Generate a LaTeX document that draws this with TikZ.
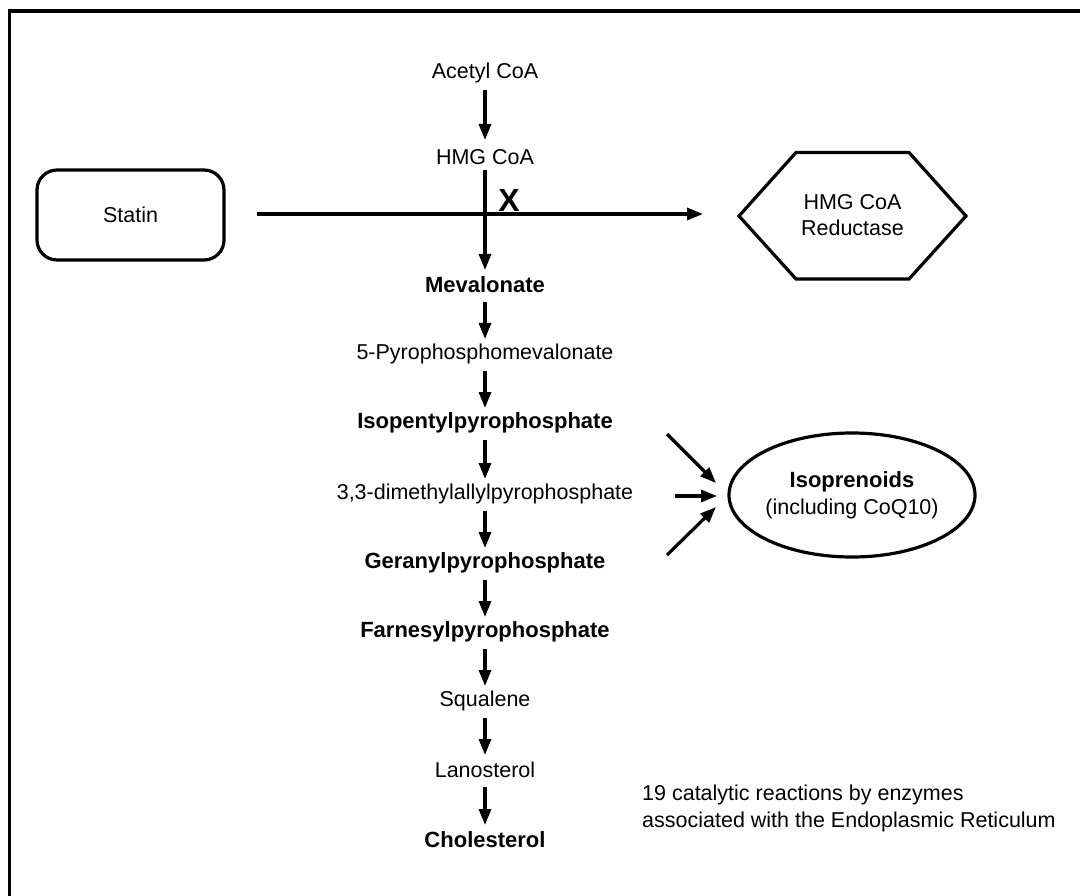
\documentclass[tikz,border=0pt]{standalone}
\usepackage{fontspec}
\setmainfont{Liberation Sans}
\usetikzlibrary{arrows.meta,shapes.geometric}
\begin{document}
\begin{tikzpicture}[x=1pt,y=-1pt,
  lbl/.style={inner sep=0pt,font=\fontsize{21.5}{25}\selectfont},
  blbl/.style={lbl,font=\fontsize{22}{25}\selectfont\bfseries},
  arr/.style={line width=3.2pt,-{Triangle[length=16pt,width=12pt]}},
  shape line/.style={line width=3.2pt}]
\useasboundingbox (0,0) rectangle (1080,896);
\draw[line width=3.2pt] (9.5,896) -- (9.5,11) -- (1080,11);

% pathway nodes
\node[lbl]  (acetyl) at (485,73) {Acetyl CoA};
\node[lbl]  (hmg)    at (485,157) {HMG CoA};
\node[blbl] (meva)   at (485,285) {Mevalonate};
\node[lbl]  (pyro)   at (485,354) {5-Pyrophosphomevalonate};
\node[blbl] (isop)   at (485,423) {Isopentylpyrophosphate};
\node[lbl]  (dmap)   at (485,494) {3,3-dimethylallylpyrophosphate};
\node[blbl] (gera)   at (485,563) {Geranylpyrophosphate};
\node[blbl] (farn)   at (485,632) {Farnesylpyrophosphate};
\node[lbl]  (squa)   at (485,701) {Squalene};
\node[lbl]  (lano)   at (485,770) {Lanosterol};
\node[blbl] (chol)   at (485,840) {Cholesterol};

\node[inner sep=0pt,font=\fontsize{32}{34}\selectfont\bfseries] (x) at (509,200) {X};

% statin
\node[draw,shape line,rounded corners=20pt,minimum width=187pt,minimum height=90pt,
      font=\fontsize{21.5}{25}\selectfont] (statin) at (130.5,215) {Statin};

% hexagon
\draw[shape line,line join=miter] (739,216) -- (796,152.5) -- (909,152.5) -- (966,216)
  -- (909,279) -- (796,279) -- cycle;
\node[lbl,align=center,font=\fontsize{21.5}{26}\selectfont] (hmgr) at (852.5,215) {HMG CoA\\Reductase};

% isoprenoids
\node[draw,shape line,ellipse,minimum width=246pt,minimum height=124pt,inner sep=0pt,
      align=center,font=\fontsize{21.5}{27}\selectfont] (isopr) at (852,495)
      {{\fontsize{22}{27}\selectfont\bfseries Isoprenoids}\\(including CoQ10)};

\node[lbl,align=left,anchor=west,font=\fontsize{21.5}{27}\selectfont] (note) at (642,808)
  {19 catalytic reactions by enzymes\\associated with the Endoplasmic Reticulum};

% arrows along the pathway
\draw[arr] ([yshift=-17pt]acetyl.center) -- ([yshift=17pt]hmg.center);
\draw[arr] ([yshift=-13pt]hmg.center) -- ([yshift=15pt]meva.center);
\foreach \a/\b in {meva/pyro,pyro/isop,isop/dmap,dmap/gera,gera/farn,farn/squa,squa/lano,lano/chol}
  \draw[arr] ([yshift=-17pt]\a.center) -- ([yshift=15pt]\b.center);

% statin inhibition line
\coordinate (s0) at (257,214);
\coordinate (s1) at (703,214);
\draw[arr] (s0) -- (s1);

% arrows into isoprenoids
\coordinate (i1) at (667,434);
\coordinate (i1e) at (716,483);
\coordinate (i2) at (675,496);
\coordinate (i2e) at (717,496);
\coordinate (i3) at (667,555);
\coordinate (i3e) at (716,507);
\draw[arr] (i1) -- (i1e);
\draw[arr] (i2) -- (i2e);
\draw[arr] (i3) -- (i3e);
\end{tikzpicture}
\end{document}
